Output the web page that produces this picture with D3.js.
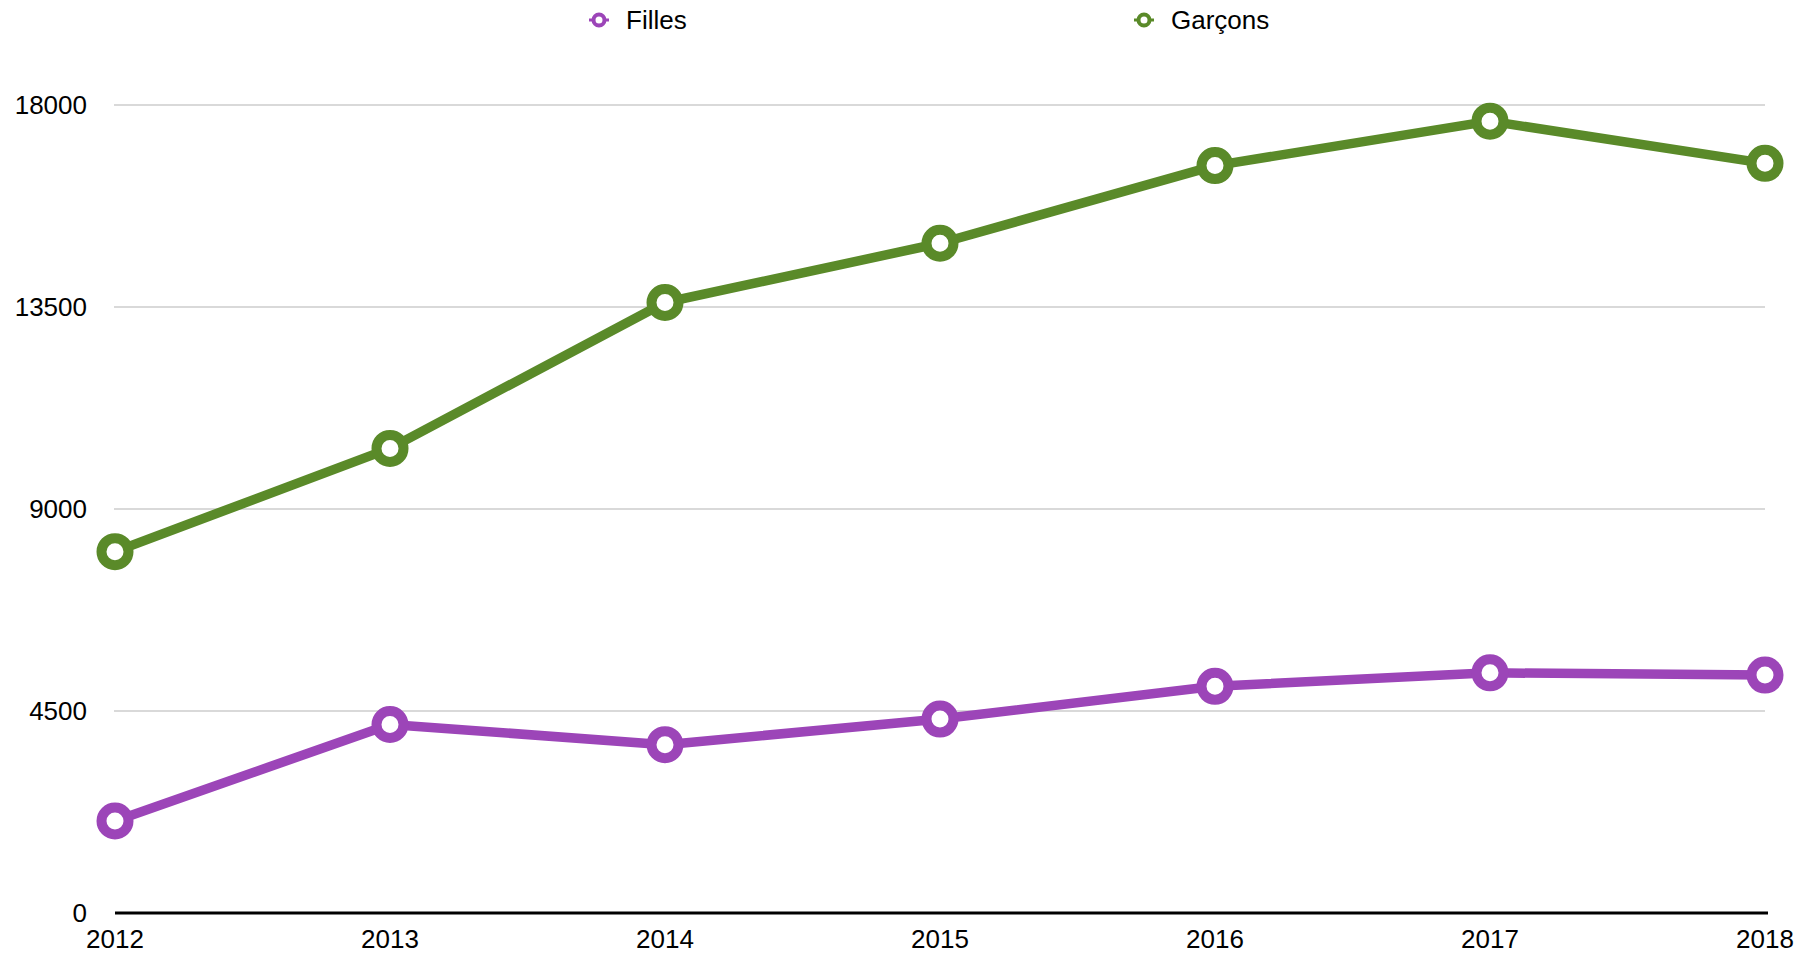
<!DOCTYPE html>
<html lang="fr">
<head>
<meta charset="UTF-8">
<title>Filles / Garçons</title>
<style>
  body { margin: 0; background: #fff; }
  svg text { font-family: "Liberation Sans", Helvetica, Arial, sans-serif; fill: #000; }
</style>
</head>
<body>
<script src="https://cdn.jsdelivr.net/npm/d3@7"></script>
<script>

// data
const years = ['2012', '2013', '2014', '2015', '2016', '2017', '2018'];
const filles = [2050, 4200, 3750, 4320, 5050, 5350, 5300];
const garcons = [8050, 10350, 13600, 14920, 16650, 17640, 16700];
const yTicks = [0, 4500, 9000, 13500, 18000];

const series = [
    {name: 'Filles', values: filles, color: '#9c45b8', legendX: 599},
    {name: 'Garçons', values: garcons, color: '#5a8a29', legendX: 1144}
];

const width = 1814, height = 955;
const plotLeft = 115, plotRight = 1765, plotTop = 105, plotBottom = 913;

let svg = d3.select('body')
    .append('svg')
    .attr('width', width)
    .attr('height', height);

let x = d3.scalePoint()
    .domain(years)
    .range([plotLeft, plotRight]);

let y = d3.scaleLinear()
    .domain([0, 18000])
    .range([plotBottom, plotTop]);

// gridlines
svg.append('g')
    .selectAll('line')
    .data(yTicks.filter(d => d > 0))
    .enter()
    .append('line')
    .attr('x1', plotLeft - 1)
    .attr('x2', plotRight)
    .attr('y1', d => y(d))
    .attr('y2', d => y(d))
    .style('stroke', '#cccccc')
    .style('stroke-width', 1.3);

// y tick labels
svg.append('g')
    .selectAll('text')
    .data(yTicks)
    .enter()
    .append('text')
    .attr('x', 87)
    .attr('y', d => y(d))
    .attr('dy', '0.36em')
    .attr('text-anchor', 'end')
    .style('font-size', '26px')
    .text(d => d);

// x axis
svg.append('line')
    .attr('x1', plotLeft)
    .attr('x2', plotRight + 3)
    .attr('y1', plotBottom)
    .attr('y2', plotBottom)
    .style('stroke', '#000')
    .style('stroke-width', 3);

svg.append('g')
    .selectAll('text')
    .data(years)
    .enter()
    .append('text')
    .attr('x', d => x(d))
    .attr('y', 948)
    .attr('text-anchor', 'middle')
    .style('font-size', '26px')
    .text(d => d);

let line = d3.line()
    .x((d, i) => x(years[i]))
    .y(d => y(d));

series.forEach(s => {
    svg.append('path')
        .datum(s.values)
        .attr('d', line)
        .style('fill', 'none')
        .style('stroke', s.color)
        .style('stroke-width', 9.5)
        .style('stroke-linejoin', 'round');

    svg.append('g')
        .selectAll('circle')
        .data(s.values)
        .enter()
        .append('circle')
        .attr('cx', (d, i) => x(years[i]))
        .attr('cy', d => y(d))
        .attr('r', 13.5)
        .style('fill', '#fff')
        .style('stroke', s.color)
        .style('stroke-width', 10);

    // legend
    let lg = svg.append('g').attr('transform', 'translate(' + s.legendX + ',20)');
    lg.append('line')
        .attr('x1', -10).attr('x2', 10)
        .attr('y1', 0).attr('y2', 0)
        .style('stroke', s.color)
        .style('stroke-width', 3);
    lg.append('circle')
        .attr('r', 5.5)
        .style('fill', '#fff')
        .style('stroke', s.color)
        .style('stroke-width', 4);
    lg.append('text')
        .attr('x', 27)
        .attr('dy', '0.36em')
        .style('font-size', '26px')
        .text(s.name);
});

</script>
</body>
</html>
